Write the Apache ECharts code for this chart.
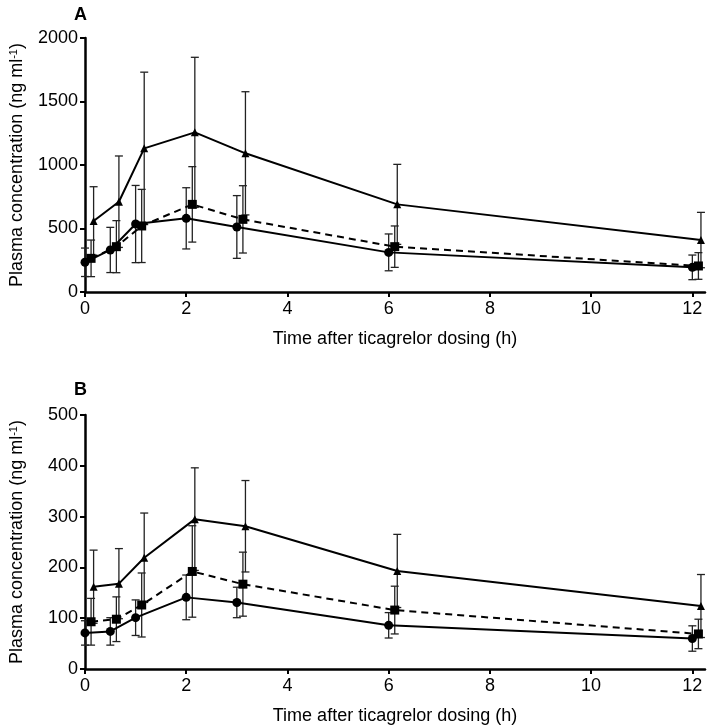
<!DOCTYPE html>
<html>
<head>
<meta charset="utf-8">
<script src="https://cdn.jsdelivr.net/npm/echarts@6/dist/echarts.min.js"></script>
<style>
  html, body { margin: 0; padding: 0; background: #fff; }
  #main { width: 709px; height: 726px; }
</style>
</head>
<body>
<div id="main"></div>
<script>
// sampling times (symbols are drawn slightly offset, as in the figure)
var timeCircle = [0, 0.5, 1, 2, 3, 6, 12];
var timeSquare = [0.12, 0.62, 1.12, 2.12, 3.12, 6.12, 12.12];
var timeTriangle = [0.17, 0.67, 1.17, 2.17, 3.17, 6.17, 12.17];
var xTicks = [0, 2, 4, 6, 8, 10, 12];

// panel A (ng/ml): mean and SD
var aCircleMean = [234, 331, 535, 580, 512, 312, 194];
var aCircleSd = [112, 178, 304, 241, 247, 145, 97];
var aSquareMean = [265, 357, 520, 690, 572, 357, 205];
var aSquareSd = [144, 205, 288, 297, 265, 163, 105];
var aTriMean = [559, 711, 1131, 1257, 1092, 690, 409];
var aTriSd = [270, 360, 600, 591, 485, 315, 218];

// panel B (ng/ml): mean and SD
var bCircleMean = [71, 74, 101, 141, 131, 86, 60];
var bCircleSd = [24, 27, 35, 44, 30, 25, 25];
var bSquareMean = [93, 98, 126, 192, 167, 116, 69];
var bSquareSd = [46, 44, 63, 90, 63, 47, 29];
var bTriMean = [162, 168, 219, 295, 281, 193, 124];
var bTriSd = [72, 69, 88, 101, 90, 72, 62];

var FONT = 'Liberation Sans, Arial, sans-serif';
var FS = 18;

function pts(t, m) {
    var r = [];
    for (var i = 0; i < t.length; i++) r.push([t[i], m[i]]);
    return r;
}
function errs(t, m, s) {
    var r = [];
    for (var i = 0; i < t.length; i++) r.push([t[i], m[i] - s[i], m[i] + s[i]]);
    return r;
}

function renderErr(params, api) {
    var x = api.value(0);
    var hi = api.coord([x, api.value(2)]);
    var lo = api.coord([x, api.value(1)]);
    var w = 4;
    var st = { stroke: '#222', lineWidth: 1.3 };
    return {
        type: 'group',
        children: [
            { type: 'line', shape: { x1: hi[0], y1: hi[1], x2: lo[0], y2: lo[1] }, style: st },
            { type: 'line', shape: { x1: hi[0] - w, y1: hi[1], x2: hi[0] + w, y2: hi[1] }, style: st },
            { type: 'line', shape: { x1: lo[0] - w, y1: lo[1], x2: lo[0] + w, y2: lo[1] }, style: st }
        ]
    };
}

function errSeries(idx, data) {
    return {
        type: 'custom', xAxisIndex: idx, yAxisIndex: idx,
        renderItem: renderErr, data: data, silent: true,
        encode: { x: 0, y: [1, 2] }, z: 1
    };
}
function lineSeries(idx, data, symbol, size, dashed) {
    return {
        type: 'line', xAxisIndex: idx, yAxisIndex: idx, data: data,
        symbol: symbol, symbolSize: size, showAllSymbol: true,
        itemStyle: { color: '#000' },
        lineStyle: { color: '#000', width: 2, type: dashed ? [7, 5] : 'solid' },
        z: 3, animation: false
    };
}

function xAxis(idx) {
    return {
        type: 'value', gridIndex: idx, min: 0, max: 12.25,
        name: 'Time after ticagrelor dosing (h)', nameLocation: 'middle', nameGap: 38,
        nameTextStyle: { fontFamily: FONT, fontSize: FS, color: '#000' },
        axisLine: { lineStyle: { color: '#000', width: 2.5 } },
        axisTick: { customValues: xTicks, length: 5, lineStyle: { color: '#000', width: 2 } },
        axisLabel: { customValues: xTicks, fontFamily: FONT, fontSize: FS, color: '#000', margin: 8 },
        splitLine: { show: false }
    };
}
function yAxis(idx, max, step) {
    return {
        type: 'value', gridIndex: idx, min: 0, max: max, interval: step,
        name: 'Plasma concentration (ng ml{sup|-1})', nameLocation: 'middle', nameGap: 58, nameRotate: 90,
        nameTextStyle: {
            fontFamily: FONT, fontSize: FS, color: '#000',
            rich: { sup: { fontFamily: FONT, fontSize: 11, color: '#000', verticalAlign: 'top', padding: [0, 0, 8, 0] } }
        },
        axisLine: { lineStyle: { color: '#000', width: 2.5 } },
        axisTick: { length: 5, lineStyle: { color: '#000', width: 2 } },
        axisLabel: {
            fontFamily: FONT, fontSize: FS, color: '#000', margin: 7,
            formatter: function (v) { return String(v); }
        },
        splitLine: { show: false }
    };
}

var chart = echarts.init(document.getElementById('main'));
chart.setOption({
    backgroundColor: '#fff',
    animation: false,
    title: [
        { text: 'A', left: 69, top: 1, textStyle: { fontFamily: FONT, fontSize: 18, fontWeight: 'bold', color: '#000' } },
        { text: 'B', left: 69, top: 376, textStyle: { fontFamily: FONT, fontSize: 18, fontWeight: 'bold', color: '#000' } }
    ],
    grid: [
        { left: 84, right: 4, top: 38, height: 254 },
        { left: 84, right: 4, top: 415, height: 255 }
    ],
    xAxis: [xAxis(0), xAxis(1)],
    yAxis: [yAxis(0, 2000, 500), yAxis(1, 500, 100)],
    series: [
        errSeries(0, errs(timeCircle, aCircleMean, aCircleSd)),
        errSeries(0, errs(timeSquare, aSquareMean, aSquareSd)),
        errSeries(0, errs(timeTriangle, aTriMean, aTriSd)),
        lineSeries(0, pts(timeCircle, aCircleMean), 'circle', 9, false),
        lineSeries(0, pts(timeSquare, aSquareMean), 'rect', 9, true),
        lineSeries(0, pts(timeTriangle, aTriMean), 'triangle', 8, false),
        errSeries(1, errs(timeCircle, bCircleMean, bCircleSd)),
        errSeries(1, errs(timeSquare, bSquareMean, bSquareSd)),
        errSeries(1, errs(timeTriangle, bTriMean, bTriSd)),
        lineSeries(1, pts(timeCircle, bCircleMean), 'circle', 9, false),
        lineSeries(1, pts(timeSquare, bSquareMean), 'rect', 9, true),
        lineSeries(1, pts(timeTriangle, bTriMean), 'triangle', 8, false)
    ]
});
</script>
</body>
</html>
